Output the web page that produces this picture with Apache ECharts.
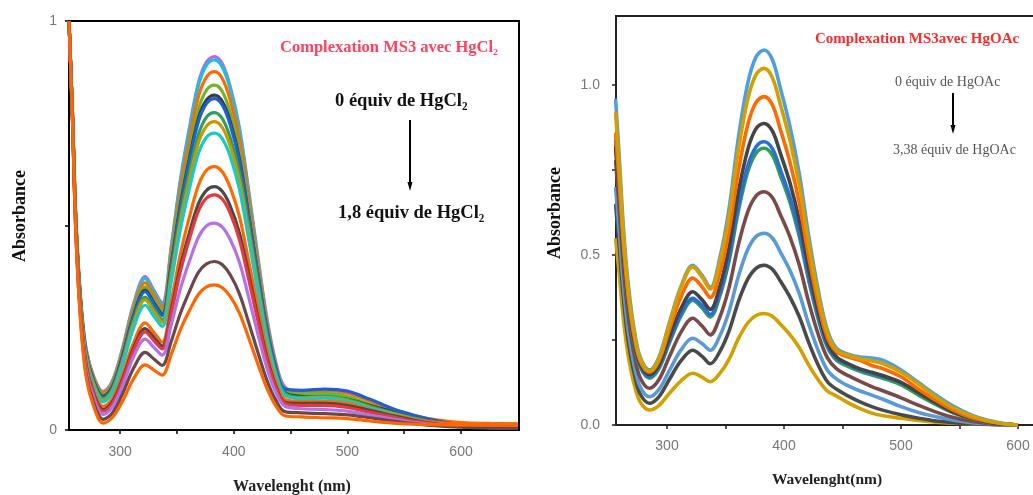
<!DOCTYPE html>
<html>
<head>
<meta charset="utf-8">
<script src="https://cdn.jsdelivr.net/npm/echarts@6/dist/echarts.min.js"></script>
<style>
html,body{margin:0;padding:0;background:#fff;}
#chart{width:1033px;height:495px;}
</style>
</head>
<body>
<div id="chart"></div>
<script>
// ---- Left panel: Complexation MS3 avec HgCl2 ----
const WL_A = [255,258,261,265,270,277,285,293,302,312,322,330,337,345,353,361,369,376,383,390,397,405,413,421,429,437,445,460,480,500,520,540,560,580,600,625,650];
const L1 = [1.0,0.78,0.52,0.33,0.199,0.129,0.094,0.119,0.199,0.31,0.375,0.34,0.31,0.45,0.612,0.74,0.85,0.9,0.913,0.895,0.839,0.739,0.588,0.428,0.276,0.166,0.105,0.09,0.085,0.075,0.055,0.038,0.025,0.015,0.01,0.008,0.006];
const L2 = [1.0,0.779,0.519,0.328,0.197,0.127,0.092,0.117,0.196,0.306,0.37,0.335,0.305,0.444,0.605,0.733,0.843,0.892,0.905,0.887,0.832,0.732,0.581,0.422,0.271,0.16,0.1,0.088,0.088,0.08,0.06,0.042,0.028,0.018,0.012,0.008,0.006];
const L3 = [1.0,0.779,0.518,0.327,0.196,0.125,0.09,0.114,0.191,0.298,0.36,0.327,0.298,0.432,0.587,0.71,0.816,0.863,0.876,0.859,0.805,0.709,0.564,0.41,0.265,0.158,0.1,0.095,0.096,0.09,0.07,0.05,0.035,0.024,0.018,0.016,0.015];
const L4 = [1.0,0.778,0.515,0.323,0.191,0.121,0.085,0.109,0.184,0.289,0.35,0.318,0.29,0.418,0.567,0.684,0.785,0.831,0.843,0.827,0.775,0.682,0.542,0.394,0.254,0.151,0.095,0.088,0.09,0.082,0.062,0.044,0.03,0.02,0.012,0.008,0.006];
const L5 = [1.0,0.777,0.513,0.321,0.188,0.118,0.082,0.105,0.18,0.282,0.342,0.31,0.283,0.407,0.551,0.665,0.763,0.807,0.819,0.803,0.753,0.663,0.527,0.383,0.246,0.147,0.092,0.082,0.08,0.075,0.06,0.045,0.03,0.018,0.01,0.007,0.005];
const L6 = [1.0,0.776,0.512,0.319,0.187,0.116,0.08,0.103,0.177,0.279,0.338,0.307,0.28,0.403,0.545,0.658,0.755,0.798,0.81,0.794,0.745,0.657,0.525,0.384,0.251,0.153,0.1,0.097,0.1,0.095,0.075,0.052,0.035,0.022,0.013,0.008,0.006];
const L7 = [1.0,0.775,0.51,0.316,0.183,0.112,0.076,0.098,0.169,0.268,0.325,0.295,0.27,0.387,0.523,0.631,0.723,0.765,0.776,0.761,0.714,0.629,0.5,0.364,0.235,0.141,0.09,0.08,0.082,0.075,0.058,0.042,0.028,0.017,0.01,0.007,0.005];
const L8 = [1.0,0.775,0.509,0.314,0.181,0.109,0.073,0.095,0.165,0.262,0.318,0.288,0.263,0.377,0.509,0.613,0.703,0.743,0.754,0.739,0.693,0.61,0.485,0.353,0.227,0.135,0.085,0.078,0.08,0.072,0.055,0.04,0.026,0.016,0.01,0.007,0.005];
const L9 = [1.0,0.774,0.507,0.311,0.177,0.105,0.069,0.09,0.158,0.251,0.305,0.277,0.253,0.363,0.49,0.59,0.677,0.716,0.726,0.712,0.668,0.588,0.468,0.341,0.221,0.133,0.085,0.077,0.078,0.07,0.054,0.038,0.025,0.015,0.01,0.007,0.005];
const L10 = [1.0,0.771,0.501,0.303,0.167,0.095,0.058,0.076,0.135,0.215,0.262,0.237,0.215,0.315,0.43,0.521,0.599,0.635,0.644,0.631,0.592,0.522,0.415,0.303,0.196,0.118,0.075,0.07,0.07,0.065,0.05,0.036,0.025,0.018,0.016,0.015,0.015];
const L11 = [1.0,0.769,0.497,0.297,0.16,0.087,0.05,0.068,0.124,0.202,0.248,0.225,0.205,0.295,0.4,0.483,0.554,0.586,0.595,0.583,0.547,0.482,0.383,0.279,0.18,0.108,0.068,0.065,0.065,0.06,0.048,0.035,0.023,0.014,0.009,0.006,0.005];
const L12 = [1.0,0.768,0.494,0.294,0.157,0.083,0.046,0.063,0.119,0.195,0.24,0.217,0.198,0.285,0.387,0.467,0.536,0.567,0.575,0.564,0.529,0.465,0.37,0.269,0.173,0.103,0.065,0.06,0.06,0.055,0.043,0.032,0.021,0.013,0.008,0.006,0.005];
const L13 = [1.0,0.766,0.49,0.288,0.15,0.076,0.038,0.055,0.107,0.18,0.222,0.201,0.183,0.258,0.345,0.413,0.472,0.499,0.506,0.496,0.465,0.41,0.326,0.237,0.153,0.092,0.058,0.052,0.05,0.046,0.036,0.027,0.018,0.012,0.008,0.006,0.005];
const L14 = [1.0,0.763,0.484,0.279,0.139,0.064,0.026,0.041,0.088,0.152,0.19,0.173,0.158,0.217,0.285,0.339,0.386,0.406,0.412,0.404,0.379,0.333,0.264,0.192,0.123,0.073,0.045,0.042,0.04,0.037,0.03,0.022,0.015,0.01,0.007,0.005,0.004];
const L15 = [1.0,0.761,0.479,0.273,0.131,0.055,0.017,0.03,0.07,0.126,0.159,0.146,0.134,0.185,0.245,0.292,0.332,0.35,0.355,0.348,0.326,0.286,0.226,0.163,0.103,0.059,0.035,0.032,0.03,0.028,0.022,0.017,0.014,0.013,0.012,0.012,0.012];
const LEFT_SERIES = [L1,L2,L3,L4,L5,L6,L7,L8,L9,L10,L11,L12,L13,L14,L15];
const LEFT_COLORS = ['#b469e6','#19c3d6','#ff6a00','#6fb52c','#3c3c3c','#1f5fd6','#2e9e5e','#c49a00','#17c9c9','#ff6a00','#4a4a4a','#e8383d','#b472e8','#6b4848','#ff6600'];
const LEFT_X_TICKS = [300,350,400,450,500,550,600];
const LEFT_X_LABELS = [300,400,500,600];

// ---- Right panel: Complexation MS3 avec HgOAc ----
const WL_B = [256,259,262,265,268,272,277,285,293,302,312,322,330,337,345,353,361,369,376,383,390,397,405,413,421,429,437,445,455,465,475,485,500,515,530,545,560,575,590,600];
const R1 = [0.96,0.80,0.62,0.48,0.38,0.28,0.20,0.162,0.199,0.301,0.408,0.47,0.44,0.405,0.489,0.635,0.845,1.005,1.082,1.103,1.075,0.989,0.88,0.74,0.559,0.401,0.28,0.225,0.208,0.2,0.197,0.19,0.162,0.125,0.088,0.055,0.03,0.013,0.003,0];
const R2 = [0.92,0.768,0.595,0.463,0.364,0.271,0.195,0.158,0.195,0.296,0.404,0.465,0.435,0.40,0.478,0.614,0.809,0.958,1.03,1.049,1.022,0.941,0.838,0.707,0.535,0.386,0.272,0.22,0.205,0.195,0.188,0.18,0.155,0.12,0.082,0.05,0.027,0.012,0.003,0];
const R3 = [0.86,0.719,0.56,0.437,0.345,0.259,0.189,0.155,0.188,0.28,0.377,0.432,0.406,0.375,0.446,0.57,0.747,0.883,0.948,0.966,0.942,0.868,0.774,0.654,0.497,0.361,0.258,0.215,0.2,0.19,0.175,0.165,0.142,0.105,0.072,0.043,0.022,0.01,0.002,0];
const R4 = [0.82,0.686,0.534,0.417,0.329,0.247,0.18,0.148,0.177,0.258,0.343,0.392,0.368,0.34,0.406,0.521,0.685,0.81,0.871,0.887,0.865,0.798,0.713,0.603,0.461,0.337,0.243,0.2,0.18,0.165,0.155,0.145,0.125,0.095,0.065,0.038,0.02,0.008,0.002,0];
const R5 = [0.84,0.70,0.543,0.421,0.33,0.245,0.176,0.142,0.17,0.246,0.327,0.373,0.351,0.325,0.386,0.493,0.645,0.762,0.818,0.833,0.813,0.75,0.671,0.57,0.437,0.323,0.235,0.195,0.178,0.162,0.152,0.142,0.125,0.095,0.065,0.038,0.02,0.008,0.002,0];
const R6 = [0.82,0.684,0.529,0.411,0.322,0.239,0.171,0.138,0.165,0.241,0.321,0.367,0.344,0.318,0.378,0.482,0.63,0.745,0.799,0.814,0.794,0.733,0.656,0.556,0.427,0.315,0.229,0.19,0.172,0.158,0.147,0.137,0.118,0.088,0.06,0.035,0.018,0.007,0.002,0];
const R7 = [0.78,0.646,0.494,0.377,0.289,0.207,0.14,0.108,0.133,0.201,0.273,0.314,0.291,0.265,0.316,0.404,0.53,0.627,0.673,0.686,0.669,0.618,0.554,0.471,0.363,0.269,0.198,0.165,0.145,0.128,0.113,0.1,0.08,0.058,0.038,0.022,0.011,0.004,0.001,0];
const R8 = [0.70,0.577,0.437,0.33,0.25,0.174,0.113,0.083,0.104,0.16,0.221,0.255,0.239,0.22,0.261,0.334,0.437,0.516,0.554,0.564,0.55,0.508,0.455,0.387,0.298,0.221,0.162,0.135,0.115,0.1,0.088,0.075,0.054,0.037,0.024,0.014,0.007,0.003,0,0];
const R9 = [0.65,0.533,0.40,0.298,0.222,0.151,0.092,0.064,0.083,0.134,0.189,0.22,0.202,0.18,0.215,0.276,0.363,0.429,0.461,0.47,0.458,0.423,0.377,0.319,0.244,0.178,0.128,0.105,0.085,0.068,0.054,0.043,0.03,0.02,0.012,0.007,0.004,0.002,0,0];
const R10 = [0.55,0.449,0.334,0.246,0.181,0.119,0.068,0.044,0.057,0.093,0.13,0.152,0.141,0.127,0.151,0.193,0.254,0.30,0.322,0.328,0.32,0.296,0.266,0.228,0.177,0.134,0.10,0.085,0.065,0.048,0.035,0.027,0.02,0.013,0.008,0.005,0.003,0.001,0,0];
const RIGHT_SERIES = [R10,R9,R8,R7,R6,R5,R4,R3,R1,R2];
const RIGHT_COLORS = ['#d4a000','#4a4a4a','#5b9bd5','#7a4a4a','#2f9e5a','#2a6fd6','#444444','#ff6a00','#4f9ee0','#d4a000'];
const RIGHT_X_TICKS = [300,350,400,450,500,550,600];
const RIGHT_X_LABELS = [300,400,500,600];
const RIGHT_Y_TICKS = [0,0.25,0.5,0.75,1.0];
const RIGHT_Y_LABELS = [0,0.5,1.0];

const chart = echarts.init(document.getElementById('chart'), null, {renderer:'canvas'});

function mkSeries(wl, arr, color, axisIdx, w){
  return {
    type:'line', xAxisIndex:axisIdx, yAxisIndex:axisIdx,
    data: wl.map((x,i)=>[x, arr[i]]),
    showSymbol:false, smooth:0.35, silent:true, animation:false,
    lineStyle:{color:color, width:w}, itemStyle:{color:color}
  };
}
const series = [];
LEFT_SERIES.forEach((s,i)=>series.push(mkSeries(WL_A, s, LEFT_COLORS[i], 0, 3.2)));
RIGHT_SERIES.forEach((s,i)=>series.push(mkSeries(WL_B, s, RIGHT_COLORS[i], 1, 3.6)));

const tickLabelStyle = {color:'#777', fontFamily:'Liberation Sans', fontSize:14};
const serif = 'Liberation Serif';

function txt(x,y,text,font,fill,align,rot){
  return {type:'text', x:x, y:y, rotation:rot||0, silent:true,
    style:{text:text, font:font, fill:fill, align:align||'left', textAlign:align||'left', verticalAlign:'middle', textVerticalAlign:'middle'}};
}
function arrow(x,y1,y2){
  return [
    {type:'line', silent:true, shape:{x1:x,y1:y1,x2:x,y2:y2-6}, style:{stroke:'#000', lineWidth:2}},
    {type:'polygon', silent:true, shape:{points:[[x-2.5,y2-9],[x+2.5,y2-9],[x,y2]]}, style:{fill:'#000'}}
  ];
}

const option = {
  animation:false,
  backgroundColor:'#fff',
  grid:[
    {left:69, top:21, width:450, height:409, show:true, borderColor:'#000', borderWidth:2, backgroundColor:'transparent', outerBoundsMode:'none', containLabel:false},
    {left:616, top:16, width:430, height:409, show:true, borderColor:'#222', borderWidth:2, backgroundColor:'transparent', outerBoundsMode:'none', containLabel:false}
  ],
  xAxis:[
    {type:'value', gridIndex:0, min:255, max:651,
      axisLine:{show:true, lineStyle:{color:'#000', width:2}},
      axisTick:{show:true, customValues:LEFT_X_TICKS, length:4, lineStyle:{color:'#000', width:1.5}},
      axisLabel:{show:true, customValues:LEFT_X_LABELS, margin:15, ...tickLabelStyle},
      splitLine:{show:false}},
    {type:'value', gridIndex:1, min:256.4, max:256.4+430/1.17,
      axisLine:{show:true, lineStyle:{color:'#222', width:2}},
      axisTick:{show:true, customValues:RIGHT_X_TICKS, length:4, lineStyle:{color:'#222', width:1.5}},
      axisLabel:{show:true, customValues:RIGHT_X_LABELS, margin:14, ...tickLabelStyle},
      splitLine:{show:false}}
  ],
  yAxis:[
    {type:'value', gridIndex:0, min:0, max:1, interval:0.5,
      axisLine:{show:true, lineStyle:{color:'#000', width:2}},
      axisTick:{show:true, length:4, lineStyle:{color:'#000', width:1.5}},
      axisLabel:{show:true, margin:12, ...tickLabelStyle, formatter:v=> (v===0||v===1)? String(v) : ''},
      splitLine:{show:false}},
    {type:'value', gridIndex:1, min:0, max:1.203,
      axisLine:{show:true, lineStyle:{color:'#222', width:2}},
      axisTick:{show:true, customValues:RIGHT_Y_TICKS, length:4, lineStyle:{color:'#222', width:1.5}},
      axisLabel:{show:true, customValues:RIGHT_Y_LABELS, margin:16, ...tickLabelStyle, formatter:v=>v.toFixed(1)},
      splitLine:{show:false}}
  ],
  series: series,
  graphic:[
    txt(280,48,'Complexation MS3 avec HgCl₂','bold 16.5px "'+serif+'"','#ff4262','left'),
    txt(335,101,'0 équiv de HgCl₂','bold 18.5px "'+serif+'"','#111','left'),
    ...arrow(410,120,191),
    txt(338,213,'1,8 équiv de HgCl₂','bold 18.5px "'+serif+'"','#111','left'),
    txt(20,216,'Absorbance','bold 18px "'+serif+'"','#111','center',Math.PI/2),
    txt(292,487,'Wavelenght (nm)','bold 16px "'+serif+'"','#222','center'),
    txt(815,39,'Complexation MS3avec HgOAc','bold 15px "'+serif+'"','#ff2a2a','left'),
    txt(895,82,'0 équiv de HgOAc','14px "'+serif+'"','#555','left'),
    ...arrow(953,93,134),
    txt(893,150,'3,38 équiv de HgOAc','14px "'+serif+'"','#555','left'),
    txt(555,213,'Absorbance','bold 18px "'+serif+'"','#111','center',Math.PI/2),
    txt(827,480,'Wavelenght(nm)','bold 15.5px "'+serif+'"','#222','center')
  ]
};
chart.setOption(option);
</script>
</body>
</html>
